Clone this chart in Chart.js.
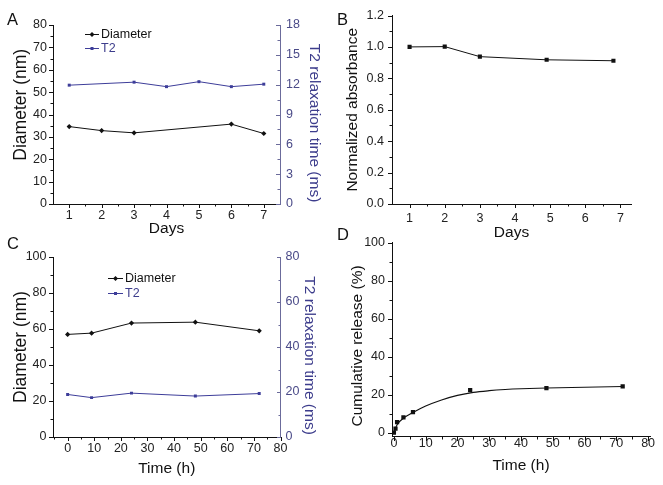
<!DOCTYPE html>
<html>
<head>
<meta charset="utf-8">
<script src="https://cdn.jsdelivr.net/npm/chart.js@4/dist/chart.umd.min.js"></script>
<style>
body { margin: 0; background: #fff; width: 663px; height: 485px; position: relative; overflow: hidden; font-family: "Liberation Sans", Arial, sans-serif; }
.panel { position: absolute; }
.panel canvas { display: block; }
.letter { position: absolute; font-size: 16.5px; line-height: 1; color: #111; }
.leg { position: absolute; display: flex; align-items: center; height: 14px; font-size: 12.5px; color: #111; white-space: nowrap; }
.leg svg { margin-right: 2px; }
</style>
</head>
<body>

<div class="panel" style="left:0;top:0"><canvas id="chartA" width="330" height="240"></canvas></div>
<div class="panel" style="left:330px;top:0"><canvas id="chartB" width="333" height="245"></canvas></div>
<div class="panel" style="left:0;top:240px"><canvas id="chartC" width="330" height="245"></canvas></div>
<div class="panel" style="left:330px;top:228px"><canvas id="chartD" width="333" height="257"></canvas></div>

<div class="letter" style="left:7px;top:11px">A</div>
<div class="letter" style="left:337px;top:11px">B</div>
<div class="letter" style="left:7px;top:235px">C</div>
<div class="letter" style="left:337px;top:226px">D</div>

<!-- legends A -->
<div class="leg" style="left:85px;top:27px"><svg width="14" height="10"><line x1="0" y1="5.5" x2="14" y2="5.5" stroke="#111"/><path d="M7 3 L9.5 5.5 L7 8 L4.5 5.5Z" fill="#111"/></svg>Diameter</div>
<div class="leg" style="left:85px;top:41px;color:#3d3d8c"><svg width="14" height="10"><line x1="0" y1="5.5" x2="14" y2="5.5" stroke="#3d3d99"/><rect x="5.5" y="4" width="3" height="3" fill="#3d3d99"/></svg>T2</div>
<!-- legends C -->
<div class="leg" style="left:108px;top:271px"><svg width="15" height="10"><line x1="0" y1="5.5" x2="15" y2="5.5" stroke="#111"/><path d="M7.5 3 L10 5.5 L7.5 8 L5 5.5Z" fill="#111"/></svg>Diameter</div>
<div class="leg" style="left:108px;top:286px;color:#3d3d8c"><svg width="15" height="10"><line x1="0" y1="5.5" x2="15" y2="5.5" stroke="#3d3d99"/><rect x="6" y="4" width="3" height="3" fill="#3d3d99"/></svg>T2</div>

<script>
// A: diameter and T2 over days
const daysDiamA = [1, 2, 3, 6, 7];
const diamA = [34.6, 32.8, 31.8, 35.7, 31.5];
const daysT2A = [1, 3, 4, 5, 6, 7];
const t2A = [11.95, 12.25, 11.8, 12.3, 11.8, 12.05];

// B: normalized absorbance
const daysB = [1, 2, 3, 4.9, 6.8];
const absB = [1.0, 1.002, 0.938, 0.918, 0.912];

// C: diameter and T2 over time
const timeC = [0, 9, 24, 48, 72];
const diamC = [57.0, 57.7, 63.3, 63.8, 59.0];
const t2C = [18.9, 17.5, 19.5, 18.2, 19.3];

// D: cumulative release, measured points and fitted curve
const timeD = [0, 0.5, 1, 3, 6, 24, 48, 72];
const releaseD = [0, 2.1, 5.6, 8.1, 10.8, 22.4, 23.4, 24.4];
const fitTimeD = [0, 1, 3, 6, 10, 15, 20, 25, 30, 35, 40, 48, 60, 72];
const fitD = [0, 4.2, 7.6, 10.6, 14.0, 17.2, 19.6, 21.2, 22.1, 22.7, 23.1, 23.5, 23.9, 24.3];

// tick labels
const daysTicks = [1, 2, 3, 4, 5, 6, 7];
const diamTicksA = [0, 10, 20, 30, 40, 50, 60, 70, 80];
const t2TicksA = [0, 3, 6, 9, 12, 15, 18];
const absTicks = [0, 0.2, 0.4, 0.6, 0.8, 1.0, 1.2];
const timeTicks = [0, 10, 20, 30, 40, 50, 60, 70, 80];
const diamTicksC = [0, 20, 40, 60, 80, 100];
const t2TicksC = [0, 20, 40, 60, 80];
const releaseTicks = [0, 20, 40, 60, 80, 100];

const FONT = '"Liberation Sans", Arial, sans-serif';
const black = '#111';
const blueLine = '#3d3d99';
const blueAxis = '#6b6b9b';
const blueText = '#4a4a88';
const blueTitle = '#3d3d8c';

function pts(xs, ys) {
    return xs.map((x, i) => ({ x: x, y: ys[i] }));
}

// one axis, size fixed so plot areas line up with the figure
function axis(o) {
    return {
        type: 'linear',
        position: o.pos,
        min: o.min,
        max: o.max,
        afterBuildTicks: function (s) { s.ticks = o.ticks.map(v => ({ value: v })); },
        afterFit: function (s) {
            if (s.isHorizontal()) s.height = o.size;
            else s.width = o.size;
        },
        grid: { display: false, drawTicks: false },
        border: { display: true, color: o.color || black, width: 1 },
        ticks: {
            padding: o.pad,
            autoSkip: false,
            maxRotation: 0,
            color: o.textColor || '#222',
            font: { size: 12.5, family: FONT, weight: 'normal' },
            callback: o.fmt || (v => String(v))
        },
        title: {
            display: true,
            text: o.title,
            color: o.titleColor || black,
            font: { size: o.titleSize || 15.5, family: FONT, weight: 'normal', lineHeight: '18px' },
            padding: { top: o.tpad, bottom: o.tpad }
        }
    };
}

// major ticks at labels, minor ticks halfway, all on the left / below the axis line
const tickMarks = {
    id: 'tickMarks',
    afterDraw(chart) {
        const ctx = chart.ctx;
        ctx.save();
        ctx.lineWidth = 1;
        Object.values(chart.scales).forEach(function (s) {
            const vals = s.ticks.map(t => t.value);
            const step = vals[1] - vals[0];
            const minors = [];
            for (let i = -1; i < vals.length; i++) {
                const m = i < 0 ? vals[0] - step / 2 : vals[i] + step / 2;
                if (m > s.min && m < s.max) minors.push(m);
            }
            ctx.strokeStyle = s.options.border.color;
            ctx.beginPath();
            const mark = function (v, len) {
                const p = Math.round(s.getPixelForValue(v)) + 0.5;
                if (s.isHorizontal()) {
                    const y0 = Math.round(s.top);
                    ctx.moveTo(p, y0);
                    ctx.lineTo(p, y0 + len);
                } else {
                    const x0 = Math.round(s.position === 'left' ? s.right : s.left);
                    ctx.moveTo(x0 - len, p);
                    ctx.lineTo(x0, p);
                }
            };
            vals.forEach(v => mark(v, 4));
            minors.forEach(v => mark(v, 2.5));
            ctx.stroke();
        });
        ctx.restore();
    }
};

function baseOptions(padding, scales) {
    return {
        responsive: false,
        animation: false,
        events: [],
        layout: { padding: padding },
        plugins: { legend: { display: false }, tooltip: { enabled: false } },
        scales: scales
    };
}

// A
new Chart(document.getElementById('chartA'), {
    type: 'line',
    data: {
        datasets: [{
            data: pts(daysDiamA, diamA), yAxisID: 'y',
            borderColor: black, backgroundColor: black, borderWidth: 1,
            pointStyle: 'rectRot', pointRadius: 2.6, pointBorderWidth: 0
        }, {
            data: pts(daysT2A, t2A), yAxisID: 'y2',
            borderColor: blueLine, backgroundColor: blueLine, borderWidth: 1,
            pointStyle: 'rect', pointRadius: 2.1, pointBorderWidth: 0
        }]
    },
    options: baseOptions({ top: 25, left: 0, right: 0, bottom: 0 }, {
        x: axis({ pos: 'bottom', min: 0.5, max: 7.5, ticks: daysTicks, size: 36, pad: 4.5, title: 'Days', tpad: 2 }),
        // leading spaces nudge the title up along the axis, as in the figure
        y: axis({ pos: 'left', min: 0, max: 80, ticks: diamTicksA, size: 53, pad: 6, title: '    Diameter (nm)', titleSize: 17.5, tpad: 12 }),
        y2: axis({ pos: 'right', min: 0, max: 18, ticks: t2TicksA, size: 50, pad: 6, title: '    T2 relaxation time (ms)', tpad: 7,
            color: blueAxis, textColor: blueText, titleColor: blueTitle })
    }),
    plugins: [tickMarks]
});

// B
new Chart(document.getElementById('chartB'), {
    type: 'line',
    data: {
        datasets: [{
            data: pts(daysB, absB),
            borderColor: black, backgroundColor: black, borderWidth: 1,
            pointStyle: 'rect', pointRadius: 2.9, pointBorderWidth: 0
        }]
    },
    options: baseOptions({ top: 15, left: 0, right: 32, bottom: 0 }, {
        x: axis({ pos: 'bottom', min: 0.5, max: 7.3, ticks: daysTicks, size: 41, pad: 7.5, title: 'Days', tpad: 3 }),
        y: axis({ pos: 'left', min: 0, max: 1.2, ticks: absTicks, size: 62, pad: 8, title: 'Normalized absorbance', tpad: 14,
            fmt: v => v.toFixed(1) })
    }),
    plugins: [tickMarks]
});

// C
new Chart(document.getElementById('chartC'), {
    type: 'line',
    data: {
        datasets: [{
            data: pts(timeC, diamC), yAxisID: 'y',
            borderColor: black, backgroundColor: black, borderWidth: 1,
            pointStyle: 'rectRot', pointRadius: 2.6, pointBorderWidth: 0
        }, {
            data: pts(timeC, t2C), yAxisID: 'y2',
            borderColor: blueLine, backgroundColor: blueLine, borderWidth: 1,
            pointStyle: 'rect', pointRadius: 2.1, pointBorderWidth: 0
        }]
    },
    options: baseOptions({ top: 17, left: 0, right: 0, bottom: 0 }, {
        x: axis({ pos: 'bottom', min: -5.5, max: 80, ticks: timeTicks, size: 48, pad: 4.5, title: 'Time (h)', tpad: 7 }),
        y: axis({ pos: 'left', min: 0, max: 100, ticks: diamTicksC, size: 53, pad: 6.5, title: 'Diameter (nm)', titleSize: 17.5, tpad: 12 }),
        y2: axis({ pos: 'right', min: 0, max: 80, ticks: t2TicksC, size: 49.5, pad: 5, title: '    T2 relaxation time (ms)', tpad: 12,
            color: blueAxis, textColor: blueText, titleColor: blueTitle })
    }),
    plugins: [tickMarks]
});

// D
new Chart(document.getElementById('chartD'), {
    type: 'line',
    data: {
        datasets: [{
            data: pts(fitTimeD, fitD),
            borderColor: black, borderWidth: 1.2, pointRadius: 0,
            cubicInterpolationMode: 'monotone'
        }, {
            data: pts(timeD, releaseD), showLine: false,
            borderColor: black, backgroundColor: black,
            pointStyle: 'rect', pointRadius: 3, pointBorderWidth: 0
        }]
    },
    options: baseOptions({ top: 9, left: 0, right: 13, bottom: 0 }, {
        x: axis({ pos: 'bottom', min: -0.6, max: 80.6, ticks: timeTicks, size: 48.5, pad: 0, title: 'Time (h)', tpad: 10 }),
        y: axis({ pos: 'left', min: -2, max: 100, ticks: releaseTicks, size: 62, pad: 7, title: 'Cumulative release (%)   ', tpad: 19 })
    }),
    plugins: [tickMarks]
});
</script>
</body>
</html>
